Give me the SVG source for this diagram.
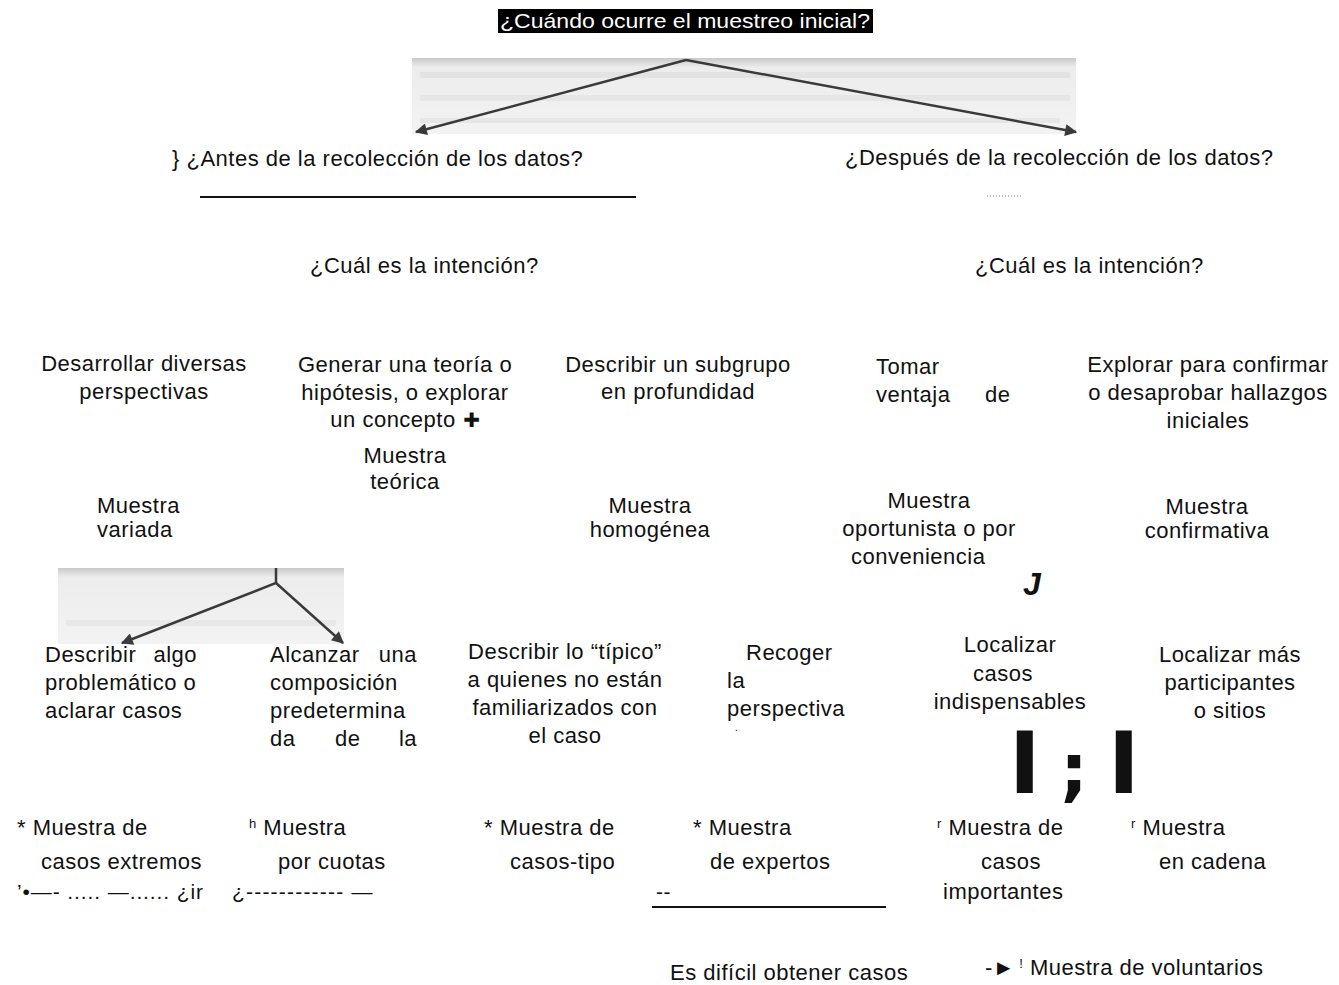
<svg xmlns="http://www.w3.org/2000/svg" width="1339" height="985" viewBox="0 0 1339 985">
<defs>
<style>
text{font-family:"Liberation Sans",Arial,sans-serif;font-size:22px;letter-spacing:0.5px;fill:#111}
.c{text-anchor:middle}
.sup{font-size:13px}
.conn{stroke:#3a3a3a;stroke-width:2.5;fill:none}
</style>
<marker id="ah" viewBox="0 0 10 10" refX="9" refY="5" markerWidth="15" markerHeight="12" orient="auto" markerUnits="userSpaceOnUse">
<path d="M0,0 L10,5 L0,10 z" fill="#3a3a3a"/>
</marker>
<linearGradient id="scan" x1="0" y1="0" x2="0" y2="1">
<stop offset="0" stop-color="#c9c9c9"/>
<stop offset="0.12" stop-color="#ececec"/>
<stop offset="1" stop-color="#f3f3f3"/>
</linearGradient>
</defs>
<rect width="1339" height="985" fill="#fff"/>

<g id="scan-top">
<rect x="412" y="58" width="664" height="76" fill="url(#scan)"/>
<rect x="420" y="72" width="650" height="6" fill="#e3e3e3"/>
<rect x="420" y="95" width="650" height="6" fill="#e6e6e6"/>
<rect x="420" y="118" width="640" height="5" fill="#e6e6e6"/>
</g>
<g id="scan-bottom">
<rect x="58" y="568" width="286" height="76" fill="url(#scan)"/>
<rect x="66" y="620" width="270" height="6" fill="#e8e8e8"/>
</g>

<g id="connectors">
<path class="conn" d="M686,60 L416,132" marker-end="url(#ah)"/>
<path class="conn" d="M686,60 L1076,132" marker-end="url(#ah)"/>
<path class="conn" d="M276,568 L276,583 L122,643" marker-end="url(#ah)"/>
<path class="conn" d="M276,583 L343,643" marker-end="url(#ah)"/>
<line x1="200" y1="197" x2="636" y2="197" stroke="#111" stroke-width="2"/>
<line x1="987" y1="196" x2="1022" y2="196" stroke="#777" stroke-width="1" stroke-dasharray="1,2"/>
<line x1="652" y1="907" x2="886" y2="907" stroke="#111" stroke-width="2"/>
</g>

<g id="title">
<rect x="498" y="9" width="375" height="24" fill="#000"/>
<text x="685" y="28" class="c" style="fill:#fff;font-size:21px;letter-spacing:0" textLength="370" lengthAdjust="spacingAndGlyphs">¿Cuándo ocurre el muestreo inicial?</text>
</g>

<g id="antes"><text x="172" y="166">} ¿Antes de la recolección de los datos?</text></g>
<g id="despues"><text x="845" y="165">¿Después de la recolección de los datos?</text></g>
<g id="intencion-izq"><text x="310" y="273">¿Cuál es la intención?</text></g>
<g id="intencion-der"><text x="975" y="273">¿Cuál es la intención?</text></g>

<g id="desarrollar">
<text x="144" y="371" class="c">Desarrollar diversas</text>
<text x="144" y="399" class="c">perspectivas</text>
</g>
<g id="generar">
<text x="405" y="372" class="c">Generar una teoría o</text>
<text x="405" y="400" class="c">hipótesis, o explorar</text>
<text x="393" y="427" class="c">un concepto</text>
<text x="472" y="427" class="c" style="font-family:'DejaVu Sans',sans-serif;font-size:20px;font-weight:bold">✚</text>
</g>
<g id="teorica">
<text x="405" y="463" class="c">Muestra</text>
<text x="405" y="489" class="c">teórica</text>
</g>
<g id="subgrupo">
<text x="678" y="372" class="c">Describir un subgrupo</text>
<text x="678" y="399" class="c">en profundidad</text>
</g>
<g id="tomar">
<text x="876" y="374">Tomar</text>
<text x="876" y="402">ventaja</text>
<text x="985" y="402">de</text>
</g>
<g id="explorar">
<text x="1208" y="372" class="c">Explorar para confirmar</text>
<text x="1208" y="400" class="c">o desaprobar hallazgos</text>
<text x="1208" y="428" class="c">iniciales</text>
</g>

<g id="variada">
<text x="97" y="513">Muestra</text>
<text x="97" y="537">variada</text>
</g>
<g id="homogenea">
<text x="650" y="513" class="c">Muestra</text>
<text x="650" y="537" class="c">homogénea</text>
</g>
<g id="oportunista">
<text x="929" y="508" class="c">Muestra</text>
<text x="929" y="536" class="c">oportunista o por</text>
<text x="851" y="564">conveniencia</text>
</g>
<g id="confirmativa">
<text x="1207" y="514" class="c">Muestra</text>
<text x="1207" y="538" class="c">confirmativa</text>
</g>
<g id="mark-j"><text x="1023" y="595" style="font-size:32px;font-weight:bold;font-style:italic;letter-spacing:0">J</text></g>

<g id="problematico">
<text x="45" y="662">Describir</text>
<text x="197" y="662" style="text-anchor:end">algo</text>
<text x="45" y="690">problemático o</text>
<text x="45" y="718">aclarar casos</text>
</g>
<g id="alcanzar">
<text x="270" y="662">Alcanzar</text>
<text x="417" y="662" style="text-anchor:end">una</text>
<text x="270" y="690">composición</text>
<text x="270" y="718">predetermina</text>
<text x="270" y="746">da</text>
<text x="335" y="746">de</text>
<text x="417" y="746" style="text-anchor:end">la</text>
</g>
<g id="tipico">
<text x="565" y="659" class="c">Describir lo “típico”</text>
<text x="565" y="687" class="c">a quienes no están</text>
<text x="565" y="715" class="c">familiarizados con</text>
<text x="565" y="743" class="c">el caso</text>
</g>
<g id="recoger">
<text x="746" y="660">Recoger</text>
<text x="727" y="688">la</text>
<text x="727" y="716">perspectiva</text>
<text x="735" y="731" style="font-size:10px">.</text>
</g>
<g id="indispensables">
<text x="1010" y="652" class="c">Localizar</text>
<text x="1003" y="681" class="c">casos</text>
<text x="1010" y="709" class="c">indispensables</text>
</g>
<g id="mas-participantes">
<text x="1230" y="662" class="c">Localizar más</text>
<text x="1230" y="690" class="c">participantes</text>
<text x="1230" y="718" class="c">o sitios</text>
</g>
<g id="mark-bars">
<text x="1009" y="793" style="font-family:'DejaVu Sans',sans-serif;font-weight:bold;font-size:85px;letter-spacing:0">I</text>
<text x="1060" y="793" style="font-family:'DejaVu Sans',sans-serif;font-weight:bold;font-size:70px;letter-spacing:0">;</text>
<text x="1108" y="793" style="font-family:'DejaVu Sans',sans-serif;font-weight:bold;font-size:85px;letter-spacing:0">I</text>
</g>

<g id="extremos">
<text x="17" y="835">* Muestra de</text>
<text x="41" y="869">casos extremos</text>
<text x="17" y="899" style="font-size:21px;letter-spacing:0.9px">’•—- ..... —...... ¿ir</text>
</g>
<g id="cuotas">
<text x="249" y="835"><tspan class="sup" dy="-7">h</tspan><tspan dy="7"> Muestra</tspan></text>
<text x="278" y="869">por cuotas</text>
<text x="232" y="899" style="font-size:21px;letter-spacing:1.2px">¿------------ —</text>
</g>
<g id="casos-tipo">
<text x="484" y="835">* Muestra de</text>
<text x="510" y="869">casos-tipo</text>
</g>
<g id="expertos">
<text x="693" y="835">* Muestra</text>
<text x="710" y="869">de expertos</text>
<text x="656" y="899" style="font-size:21px">--</text>
</g>
<g id="importantes">
<text x="937" y="835"><tspan class="sup" dy="-7">r</tspan><tspan dy="7"> Muestra de</tspan></text>
<text x="981" y="869">casos</text>
<text x="943" y="899">importantes</text>
</g>
<g id="cadena">
<text x="1131" y="835"><tspan class="sup" dy="-7">r</tspan><tspan dy="7"> Muestra</tspan></text>
<text x="1159" y="869">en cadena</text>
</g>
<g id="dificil"><text x="670" y="980">Es difícil obtener casos</text></g>
<g id="voluntarios">
<text x="985" y="975">-►<tspan class="sup" dy="-7"> !</tspan><tspan dy="7"> Muestra de voluntarios</tspan></text>
</g>
</svg>
